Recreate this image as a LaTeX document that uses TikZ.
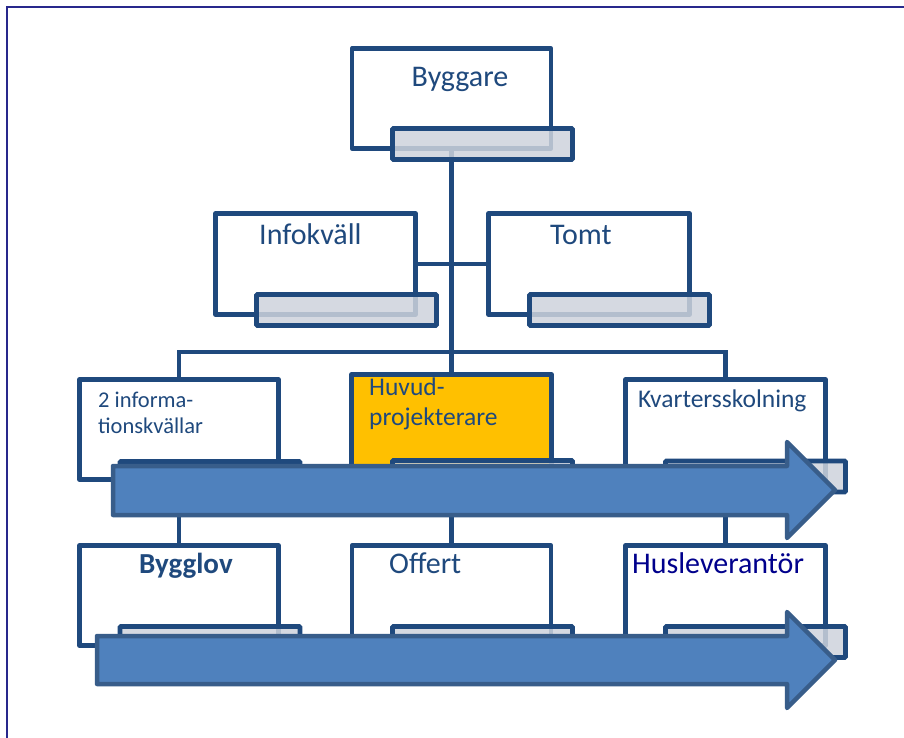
\documentclass[tikz,border=0pt]{standalone}
\usepackage{fontspec}
\setmainfont{Carlito}
\definecolor{bd}{RGB}{31,73,125}
\definecolor{tg}{RGB}{206,211,220}
\definecolor{orng}{RGB}{255,192,0}
\definecolor{af}{RGB}{79,129,189}
\definecolor{ab}{RGB}{56,93,138}
\definecolor{navytxt}{RGB}{0,0,140}
\definecolor{frm}{RGB}{40,40,140}
\tikzset{
  box/.style={draw=bd, line width=4.8pt, fill=white, rectangle, inner sep=0pt, outer sep=0pt, line join=round},
  tag/.style={draw=bd, line width=4.8pt, fill=tg, fill opacity=0.85, rectangle, rounded corners=1pt, inner sep=0pt, outer sep=0pt, minimum width=180pt, minimum height=31pt},
  lbl/.style={text=bd, inner sep=0pt, anchor=base west},
  big/.style={font=\fontsize{30}{35}\selectfont},
  mid/.style={font=\fontsize{25.5}{30}\selectfont},
  sml/.style={font=\fontsize{22.5}{26}\selectfont},
  conn/.style={draw=bd, line width=4.8pt},
  arr/.style={fill=af, draw=ab, line width=4.5pt, line join=round},
  frame/.style={draw=frm, line width=1.5pt},
}
\begin{document}
\begin{tikzpicture}[x=1pt,y=-1pt]
\useasboundingbox (0,0) rectangle (904,738);
\fill[white] (0,0) rectangle (904,738);
\draw[frame] (7,738) -- (7,7) -- (904,7);

\path
  (451.5,98.5) coordinate (cbyg)
  (315.5,264) coordinate (cinf)
  (589,264) coordinate (ctom)
  (179,429.5) coordinate (cr3a)
  (451.5,427) coordinate (cr3b)
  (725.5,429.5) coordinate (cr3c)
  (179,595.5) coordinate (cr4a)
  (451.5,595.5) coordinate (cr4b)
  (725.5,595.5) coordinate (cr4c);

% connectors (behind boxes, visible through tags)
\coordinate (bus) at (451.5,352);
\draw[conn] (cbyg) -- (cr3b);
\draw[conn] (cinf) -- (ctom);
\draw[conn] (cr3a) -- (cr3a |- bus) -- (cr3c |- bus) -- (cr3c);
\draw[conn] (cr3a) -- (cr4a);
\draw[conn] (cr3b) -- (cr4b);
\draw[conn] (cr3c) -- (cr4c);

% main boxes
\node[box, minimum width=199pt, minimum height=100pt] (byg) at (cbyg) {};
\node[box, minimum width=200pt, minimum height=101pt] (inf) at (cinf) {};
\node[box, minimum width=201pt, minimum height=101pt] (tom) at (ctom) {};
\node[box, minimum width=199pt, minimum height=100pt] (r3a) at (cr3a) {};
\node[box, fill=orng, minimum width=200pt, minimum height=105pt] (r3b) at (cr3b) {};
\node[box, minimum width=200pt, minimum height=100pt] (r3c) at (cr3c) {};
\node[box, minimum width=199pt, minimum height=100pt] (r4a) at (cr4a) {};
\node[box, minimum width=199pt, minimum height=100pt] (r4b) at (cr4b) {};
\node[box, minimum width=200pt, minimum height=100pt] (r4c) at (cr4c) {};

% visible connector segments
\draw[conn] (byg.south) -- (r3b.north);
\draw[conn] (inf.east) -- (tom.west);
\draw[conn] (r3a.north) -- (r3a.north |- bus) -- (r3c.north |- bus) -- (r3c.north);
\draw[conn] (r3a.south) -- (r4a.north);
\draw[conn] (r3b.south) -- (r4b.north);
\draw[conn] (r3c.south) -- (r4c.north);

% tags
\node[tag] (tbyg) at (482.5,144) {};
\node[tag] (tinf) at (346.5,310) {};
\node[tag] (ttom) at (619.5,310) {};
\node[tag] (tr3a) at (210,477) {};
\node[tag] (tr3b) at (482.5,476) {};
\node[tag] (tr3c) at (755.5,476.5) {};
\node[tag] (tr4a) at (210,642) {};
\node[tag] (tr4b) at (482.5,642) {};
\node[tag] (tr4c) at (755.5,642) {};

% labels
\node[lbl, big, anchor=base] (lbyg) at (460,87) {Byggare};
\node[lbl, big] (linf) at (259,244) {Infokväll};
\node[lbl, big] (ltom) at (550,244) {Tomt};
\node[lbl, sml] (lr3a1) at (98,407) {2 informa-};
\node[lbl, sml] (lr3a2) at (98,433) {tionskvällar};
\node[lbl, mid] (lr3b1) at (369,395) {Huvud-};
\node[lbl, mid] (lr3b2) at (369,425) {projekterare};
\node[lbl, mid] (lr3c) at (638,407) {Kvartersskolning};
\node[lbl, font=\fontsize{29}{34}\selectfont\bfseries] (lr4a) at (139,573) {Bygglov};
\node[lbl, big] (lr4b) at (389,573) {Offert};
\node[lbl, big, text=navytxt] (lr4c) at (632,573) {Husleverantör};

% arrows
\draw[arr] (113,466) -- (787,466) -- (787,442) -- (835,490) -- (787,538) -- (787,515) -- (113,515) -- cycle;
\draw[arr] (97,636) -- (787,636) -- (787,612) -- (835,660) -- (787,708) -- (787,684) -- (97,684) -- cycle;
\end{tikzpicture}
\end{document}
